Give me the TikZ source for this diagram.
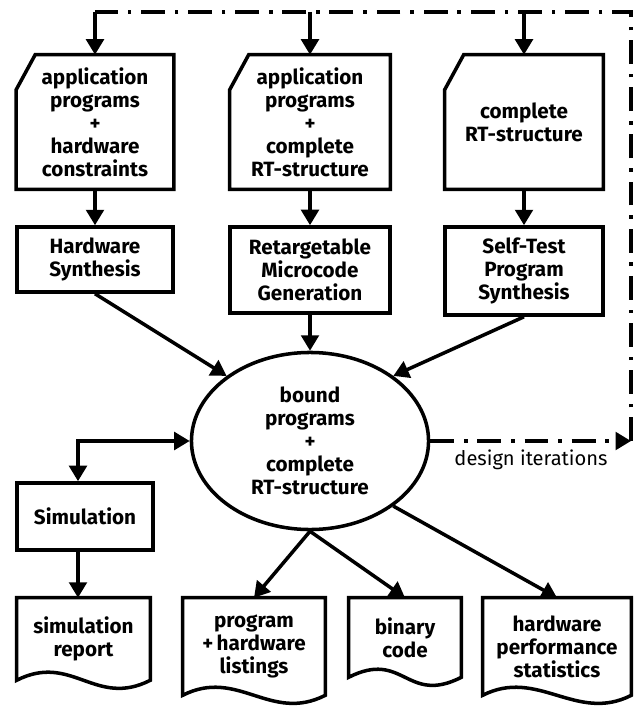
\documentclass[tikz,border=0pt]{standalone}
\usepackage{fontspec}
\setmainfont{Fira Sans}
\usepackage{tikz}
\usetikzlibrary{positioning, arrows.meta, shapes.geometric, calc}

\tikzset{
    >={Triangle[length=11pt, width=12.5pt]},
    txt/.style={align=center, inner sep=0pt, font=\bfseries\fontsize{14.7}{16.4}\selectfont},
    box/.style={txt, rectangle, draw, line width=2.5pt},
    card/.style={txt, rectangle},
    report/.style={txt, rectangle},
    outline/.style={line width=2.5pt, line join=miter},
    flow/.style={line width=2.5pt, ->},
    iter/.style={line width=2.5pt, dash pattern=on 17pt off 7pt on 2.5pt off 7pt},
}

\begin{document}
\begin{tikzpicture}[x=0.025cm, y=-0.025cm]
                    \useasboundingbox (0, 0) rectangle (634, 708);

                    \node[card, minimum width=111.7pt, minimum height=95.3pt] (apphw) at (95, 122) {application\\programs\\+\\hardware\\constraints};
                    \node[card, minimum width=113.8pt, minimum height=95.3pt] (apprt) at (310, 122) {application\\programs\\+\\complete\\RT-structure};
                    \node[card, minimum width=112.4pt, minimum height=95.3pt] (rtonly) at (524, 122) {complete\\RT-structure};

                    \node[box, minimum width=111pt, minimum height=46.2pt] (hwsyn) at (95, 259.5) {Hardware\\Synthesis};
                    \node[box, minimum width=113.8pt, minimum height=61.2pt] (mcgen) at (310, 270) {Retargetable\\Microcode\\Generation};
                    \node[box, minimum width=112.4pt, minimum height=62.6pt] (stsyn) at (524, 271) {Self-Test\\Program\\Synthesis};

                    \node[txt, ellipse, draw, line width=2.5pt, minimum width=168.6pt, minimum height=125.9pt] (bound) at (310, 441) {bound\\programs\\+\\complete\\RT-structure};

                    \node[box, minimum width=96.7pt, minimum height=47.7pt] (sim) at (85, 516.5) {Simulation};

                    \node[report, minimum width=94.6pt, minimum height=58.3pt] (simrep) at (83.5, 639) {simulation\\report};
                    \node[report, minimum width=101pt, minimum height=69pt] (listing) at (254, 646.5) {program\\+\,hardware\\listings};
                    \node[report, minimum width=79.7pt, minimum height=56.2pt] (bincode) at (405, 637.5) {binary\\code};
                    \node[report, minimum width=105.3pt, minimum height=69pt] (hwstat) at (557, 646.5) {hardware\\performance\\statistics};

                    \node[align=center, inner sep=0pt, font=\fontsize{14.3}{16}\selectfont] (iterlbl) at (531, 460) {design iterations};

                    \coordinate (loopr) at (631, 441);
                    \coordinate (topr) at (631, 12);
                    \coordinate (simturn) at (78, 441);

                    \foreach \n in {apphw, apprt, rtonly}
                        \draw[outline] ($(\n.north west)+(19, 0)$) -- (\n.north east) -- (\n.south east) -- (\n.south west) -- ($(\n.north west)+(0, 35)$) -- cycle;

                    \foreach \n in {simrep, listing, bincode, hwstat}
                        \draw[outline] (\n.south west) -- (\n.north west) -- (\n.north east) -- (\n.south east) .. controls +(-55, 28) and +(55, -28) .. (\n.south west) -- cycle;

                    \draw[iter, ->] (bound.east) -- (loopr);
                    \draw[iter] (loopr) -- (topr) -- (topr -| apphw.north);
                    \draw[flow] (apphw.north |- topr) -- (apphw.north);
                    \draw[flow] (apprt.north |- topr) -- (apprt.north);
                    \draw[flow] (rtonly.north |- topr) -- (rtonly.north);

                    \draw[flow] (apphw) -- (hwsyn);
                    \draw[flow] (apprt) -- (mcgen);
                    \draw[flow] (rtonly) -- (stsyn);

                    \draw[flow] (hwsyn.south) -- (bound.142);
                    \draw[flow] (mcgen.south) -- (bound.north);
                    \draw[flow] (stsyn.south) -- (bound.38);

                    \draw[flow, <->] (bound.west) -- (simturn) -- (simturn |- sim.north);
                    \draw[flow] (simturn |- sim.south) -- (simturn |- simrep.north);

                    \draw[flow] (bound.south) -- (listing.north);
                    \draw[flow] (bound.south) -- (bincode.north);
                    \draw[flow] (bound.-38) -- (hwstat.north);
                \end{tikzpicture}
\end{document}
